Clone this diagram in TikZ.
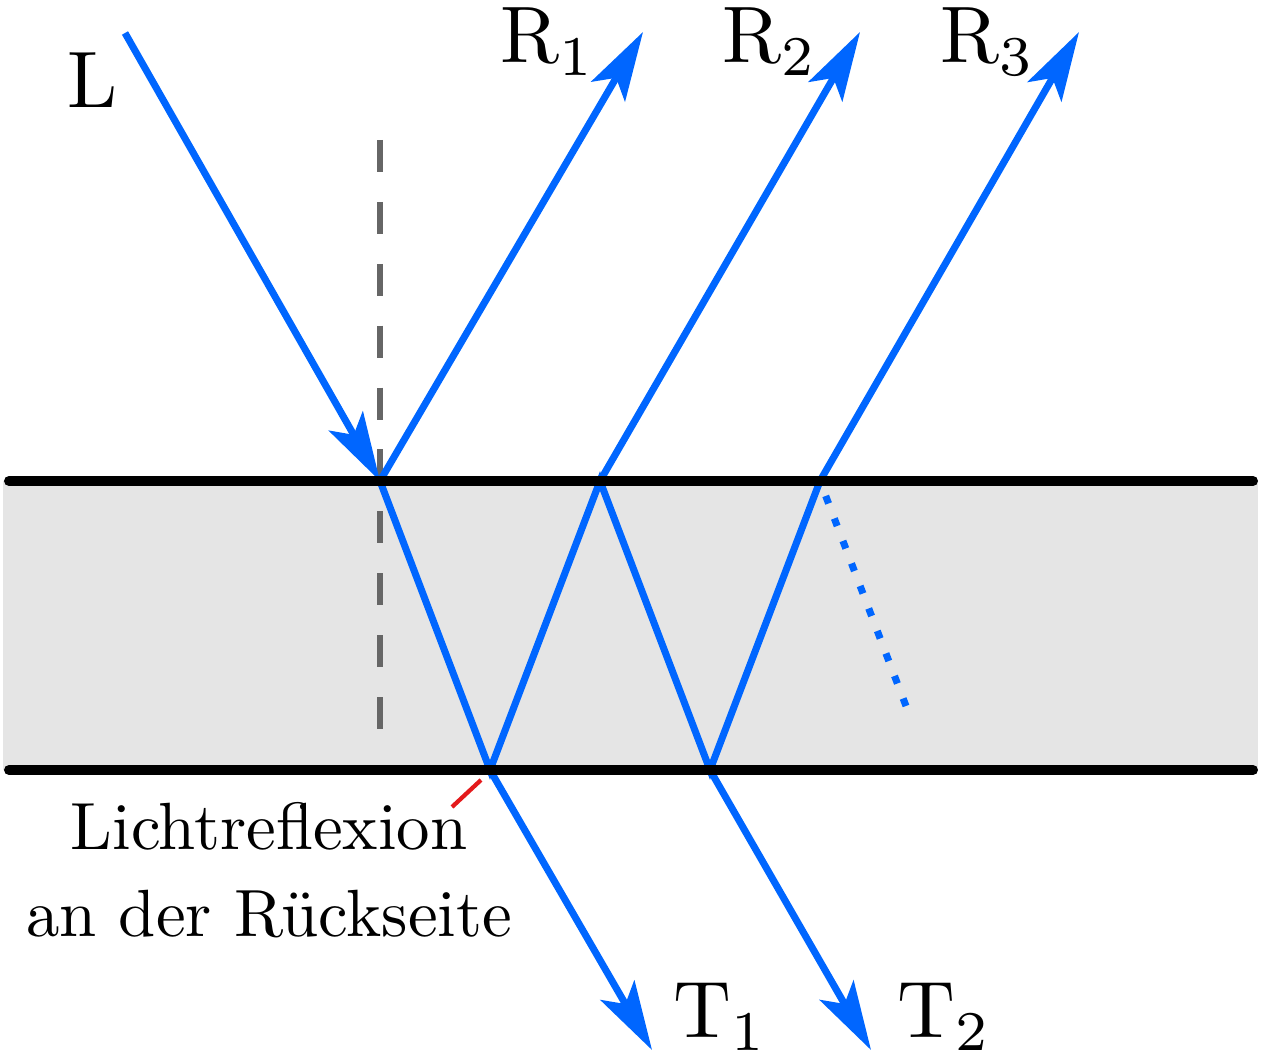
\documentclass[tikz,border=0pt]{standalone}
\usepackage{tikz}
\usetikzlibrary{arrows.meta}

\definecolor{rayblue}{RGB}{0,102,255}
\definecolor{lotgrey}{RGB}{102,102,102}
\definecolor{pinred}{RGB}{228,26,28}

\begin{document}
\begin{tikzpicture}[x=0.01cm, y=-0.01cm,
    ray/.style={rayblue, line width=2pt},
    rayarrow/.style={ray, -{Stealth[length=19.6pt, width=11.1pt, inset=4.5pt]}},
    surface/.style={line width=2.85pt, line cap=round},
    lotline/.style={lotgrey, line width=1.6pt, dash pattern=on 9.1pt off 8.5pt},
    raylabel/.style={scale=2.28, inner sep=0pt, anchor=base west}]
    \useasboundingbox (0,0) rectangle (1265,1058);

    % Platte
    \fill[black!10] (3,481) rectangle (1258,770);

    % Punkte an Vorder- und Rueckseite
    \coordinate (A) at (380,481);
    \coordinate (B) at (490,770);
    \coordinate (C) at (600,481);
    \coordinate (D) at (710,770);
    \coordinate (E) at (820,481);

    % Lot
    \coordinate (lot1) at (380,140);
    \coordinate (lot2) at (380,732);
    \draw[lotline] (lot1) -- (lot2);

    % Strahlen
    \coordinate (in) at (125,33);
    \coordinate (r1) at (643,32);
    \coordinate (r2) at (860,32);
    \coordinate (r3) at (1079,32);
    \coordinate (t1) at (652,1050);
    \coordinate (t2) at (871,1050);
    \coordinate (weiter) at (906,706);

    \draw[rayarrow] (in) -- (A);
    \draw[rayarrow] (A) -- (r1);
    \draw[ray] (A) -- (B) -- (C) -- (D) -- (E);
    \draw[rayarrow] (C) -- (r2);
    \draw[rayarrow] (E) -- (r3);
    \draw[rayarrow] (B) -- (t1);
    \draw[rayarrow] (D) -- (t2);
    \draw[ray, dash pattern=on 2.3pt off 4.55pt, dash phase=2.3pt] (E) -- (weiter);

    % Grenzflaechen
    \draw[surface] (9,481) -- (1253,481);
    \draw[surface] (9,770) -- (1253,770);

    % Beschriftung
    \node[raylabel] (labL) at (66,108) {L};
    \node[raylabel] (labR1) at (499,63) {$\mathrm{R}_1$};
    \node[raylabel] (labR2) at (721,63) {$\mathrm{R}_2$};
    \node[raylabel] (labR3) at (939,63) {$\mathrm{R}_3$};
    \node[raylabel] (labT1) at (672,1038) {$\mathrm{T}_1$};
    \node[raylabel] (labT2) at (896,1038) {$\mathrm{T}_2$};

    \node[align=center, scale=1.9] (note) at (269,870)
        {Lichtreflexion\\[1pt]an der Rückseite};
    \coordinate (pin1) at (481,780);
    \coordinate (pin2) at (452,807);
    \draw[pinred, line width=1.2pt] (pin1) -- (pin2);
\end{tikzpicture}
\end{document}
